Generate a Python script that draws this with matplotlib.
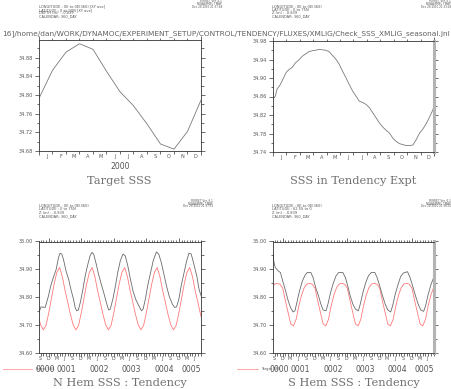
import numpy as np
import matplotlib.pyplot as plt
from matplotlib.ticker import FixedLocator, NullFormatter

# ---------------------------------------------------------------
# data
# ---------------------------------------------------------------
# top left: Target SSS, monthly (month boundaries 0..12)
target_month = [0, 1, 2, 3, 4, 5, 6, 7, 8, 9, 10, 11, 12]
target_sss = [34.793, 34.853, 34.892, 34.910, 34.898, 34.851, 34.807,
              34.777, 34.738, 34.695, 34.684, 34.722, 34.789]

# top right: SSS in tendency expt (month of year)
tend_month = [0, 0.18, 0.3, 0.55, 0.8, 0.98, 1.18, 1.43, 1.68, 1.93, 2.18,
              2.43, 2.68, 2.93, 3.18, 3.43, 3.68, 3.93, 4.18, 4.43, 4.68,
              4.93, 5.18, 5.43, 5.68, 5.93, 6.18, 6.43, 6.68, 6.93, 7.18,
              7.43, 7.68, 7.93, 8.18, 8.43, 8.68, 8.93, 9.18, 9.43, 9.68,
              9.93, 10.18, 10.43, 10.68, 10.93, 11.18, 11.43, 11.68, 11.93, 12.0]
tend_sss = [34.854, 34.861, 34.876, 34.886, 34.901, 34.912, 34.918, 34.923,
            34.933, 34.939, 34.947, 34.952, 34.957, 34.959, 34.960, 34.962,
            34.961, 34.960, 34.957, 34.949, 34.941, 34.930, 34.915, 34.901,
            34.886, 34.872, 34.861, 34.850, 34.847, 34.843, 34.836, 34.825,
            34.814, 34.803, 34.794, 34.787, 34.781, 34.770, 34.763, 34.758,
            34.756, 34.754, 34.754, 34.755, 34.767, 34.781, 34.790, 34.802,
            34.816, 34.832, 34.843]
month_letters = ['J', 'F', 'M', 'A', 'M', 'J', 'J', 'A', 'S', 'O', 'N', 'D']

# bottom panels: time in years since 0000-01-01
n_time = [0.70, 0.76, 0.89, 0.99, 1.06, 1.14, 1.23, 1.30, 1.35, 1.40, 1.45,
          1.53, 1.61, 1.68, 1.76, 1.81, 1.86, 1.91, 1.97, 2.05, 2.12, 2.19,
          2.27, 2.33, 2.38, 2.46, 2.53, 2.60, 2.69, 2.77, 2.84, 2.89, 2.97,
          3.05, 3.12, 3.20, 3.28, 3.35, 3.43, 3.51, 3.59, 3.67, 3.77, 3.85,
          3.90, 3.97, 4.04, 4.13, 4.21, 4.31, 4.38, 4.46, 4.54, 4.62, 4.70,
          4.80, 4.87, 4.93, 5.00, 5.07, 5.16, 5.24, 5.31, 5.38, 5.46, 5.55,
          5.62, 5.70]
n_sss = [34.746, 34.766, 34.764, 34.805, 34.841, 34.871, 34.901, 34.943,
         34.958, 34.955, 34.937, 34.895, 34.865, 34.829, 34.794, 34.764,
         34.752, 34.755, 34.782, 34.829, 34.877, 34.913, 34.949, 34.961,
         34.955, 34.919, 34.883, 34.853, 34.817, 34.782, 34.755, 34.758,
         34.794, 34.841, 34.889, 34.931, 34.955, 34.949, 34.913, 34.865,
         34.823, 34.794, 34.770, 34.752, 34.758, 34.794, 34.841, 34.889,
         34.931, 34.963, 34.955, 34.925, 34.883, 34.841, 34.805, 34.776,
         34.764, 34.766, 34.794, 34.841, 34.889, 34.931, 34.958, 34.955,
         34.919, 34.877, 34.829, 34.800]
n_target_clim = [34.745, 34.797, 34.849, 34.890, 34.907, 34.875, 34.825,
                 34.783, 34.739, 34.702, 34.684, 34.700]

s_time = [0.70, 0.73, 0.77, 0.86, 0.93, 1.00, 1.09, 1.17, 1.24, 1.32, 1.38,
          1.45, 1.52, 1.61, 1.69, 1.76, 1.87, 1.94, 2.02, 2.11, 2.18, 2.25,
          2.34, 2.40, 2.48, 2.57, 2.65, 2.73, 2.86, 2.94, 3.01, 3.09, 3.17,
          3.25, 3.34, 3.40, 3.48, 3.57, 3.65, 3.74, 3.85, 3.92, 4.00, 4.09,
          4.17, 4.25, 4.34, 4.40, 4.48, 4.57, 4.65, 4.73, 4.86, 4.94, 5.02,
          5.11, 5.19, 5.27, 5.36, 5.42, 5.50, 5.59, 5.67, 5.70]
s_sss = [34.955, 34.925, 34.907, 34.895, 34.889, 34.859, 34.823, 34.788,
         34.764, 34.748, 34.752, 34.788, 34.823, 34.859, 34.879, 34.889,
         34.889, 34.871, 34.835, 34.805, 34.776, 34.755, 34.752, 34.776,
         34.817, 34.853, 34.877, 34.889, 34.889, 34.871, 34.841, 34.805,
         34.776, 34.758, 34.752, 34.776, 34.817, 34.853, 34.877, 34.889,
         34.889, 34.871, 34.841, 34.805, 34.776, 34.755, 34.748, 34.770,
         34.811, 34.847, 34.875, 34.887, 34.892, 34.871, 34.841, 34.805,
         34.776, 34.755, 34.750, 34.770, 34.811, 34.847, 34.871, 34.877]
s_target_clim = [34.833, 34.788, 34.746, 34.705, 34.698, 34.722, 34.770,
                 34.808, 34.835, 34.848, 34.850, 34.847]

years = [0, 1, 2, 3, 4, 5]
year_labels = ['0000', '0001', '0002', '0003', '0004', '0005']
short_months = {8: 'S', 11: 'D', 2: 'M', 5: 'J'}

path_text = ("16]/home/dan/WORK/DYNAMOC/EXPERIMENT_SETUP/CONTROL/TENDENCY/"
             "FLUXES/XMLIG/Check_SSS_XMLIG_seasonal.jnl")

# ---------------------------------------------------------------
W, H = 452, 389
fig = plt.figure(figsize=(W / 100, H / 100), dpi=100)
TXT = '#555555'
AX = '#333333'


def box(l, t, r, b):
    return [l / W, 1 - b / H, (r - l) / W, (b - t) / H]


def fig_text(x, y, s, **kw):
    return fig.text(x / W, 1 - y / H, s, **kw)


def style(ax, band=False):
    for sp in ax.spines.values():
        sp.set_color(AX)
        sp.set_linewidth(0.6)
    if band:
        ax.spines['right'].set_color('#b4b4b4')
        ax.spines['right'].set_linewidth(2.2)
    ax.tick_params(which='both', direction='out', colors=AX, width=0.5,
                   labelcolor=TXT, labelsize=3.6, top=True, right=True)
    ax.tick_params(which='major', length=3, pad=1.5)
    ax.tick_params(which='minor', length=1.8)


def header(l, r, top, left_lines, right_lines):
    for i, s in enumerate(left_lines):
        fig_text(l, top + 5 + 3.4 * i, s, fontsize=2.6, color=TXT, va='center')
    for i, s in enumerate(right_lines):
        fig_text(r, top + 2.7 * i, s, fontsize=2.0, color=TXT, va='center',
                 ha='right')


def month_axis(ax):
    ax.set_xlim(0, 12)
    ax.xaxis.set_major_locator(FixedLocator([0, 12]))
    ax.xaxis.set_minor_locator(FixedLocator(range(1, 12)))
    ax.xaxis.set_major_formatter(NullFormatter())
    for m, s in enumerate(month_letters):
        ax.text(m + 0.6, -0.025, s, transform=ax.get_xaxis_transform(),
                fontsize=3.6, color=TXT, ha='center', va='top')


def year_axis(ax, lo, hi):
    ax.set_xlim(lo, hi)
    ax.xaxis.set_major_locator(FixedLocator(years[1:]))
    mins = [y + m / 12 for y in years for m in range(12)]
    ax.xaxis.set_minor_locator(FixedLocator(mins))
    ax.xaxis.set_major_formatter(NullFormatter())
    tr = ax.get_xaxis_transform()
    for y in years:
        for m, s in short_months.items():
            t = y + (m + 0.7) / 12
            if lo < t < hi:
                ax.text(t, -0.025, s, transform=tr, fontsize=3.4, color=TXT,
                        ha='center', va='top')
        a, b = max(y, lo), min(y + 1, hi)
        if b > a:
            ax.text((a + b) / 2 + 0.05, -0.105, year_labels[y], transform=tr,
                    fontsize=5.6, color=TXT, ha='center', va='top')


def yaxis(ax, lo, hi, major, minor, fmt='%.2f'):
    ax.set_ylim(lo, hi)
    ax.set_yticks(major)
    ax.set_yticklabels([fmt % v for v in major])
    ax.yaxis.set_minor_locator(FixedLocator(minor))


title_kw = dict(fontsize=8.2, color='#707070', family='DejaVu Serif',
                ha='center', va='center')

# ---------------------------------------------------------------
# top left: Target SSS
ax1 = fig.add_axes(box(39, 40, 201, 151))
ax1.plot(target_month, target_sss, color='#7a7a7a', lw=0.6)
month_axis(ax1)
yaxis(ax1, 34.68, 34.918, [34.68, 34.72, 34.76, 34.80, 34.84, 34.88],
      [34.70, 34.74, 34.78, 34.82, 34.86, 34.90])
style(ax1)
fig_text(120, 166.5, '2000', fontsize=5.6, color=TXT, ha='center', va='center')
fig_text(119, 181.5, 'Target SSS', **title_kw)
header(39, 222, 1.5, ['LONGITUDE : 0E to 0E(360) [XY ave]',
                      'LATITUDE : 0 to 90N [XY ave]', 'DEPTH (m) : -0.839',
                      'CALENDAR: 360_DAY'],
       ['FERRET Ver. 6.1', 'NOAA/PMEL TMAP', 'Dec 28 2010 21:37:48'])

# top right: SSS in Tendency Expt
ax2 = fig.add_axes(box(273, 41, 434, 152))
ax2.plot(tend_month, tend_sss, color='#7a7a7a', lw=0.6)
month_axis(ax2)
yaxis(ax2, 34.74, 34.98, [34.74, 34.78, 34.82, 34.86, 34.90, 34.94, 34.98],
      [34.76, 34.80, 34.84, 34.88, 34.92, 34.96])
style(ax2, band=True)
fig_text(353.5, 181.5, 'SSS in Tendency Expt', **title_kw)
header(272.5, 451, 1.5, ['LONGITUDE : 0E to 0E(360)', 'LATITUDE : 0 to 75N',
                         'Z (m) : -0.839', 'CALENDAR: 360_DAY'],
       ['FERRET Ver. 6.1', 'NOAA/PMEL TMAP', 'Dec 28 2010 21:33:46'])

# path string across the top, sized to run from the left edge to x=450
ptxt = fig_text(450, 33.5, path_text, fontsize=8, color='#606060', ha='right',
                va='center', family=['Liberation Sans Narrow', 'DejaVu Sans'])
fig.canvas.draw()
pw = ptxt.get_window_extent(fig.canvas.get_renderer()).width
ptxt.set_fontsize(8 * 449 / pw)

# bottom panels
lo, hi = 0.70, 5.68
bottom_ticks = [34.60, 34.70, 34.80, 34.90, 35.00]
bottom_minor = [34.65, 34.75, 34.85, 34.95]

ax3 = fig.add_axes(box(39, 241.5, 201, 353.3))
t_red = [y + m / 12 for y in years for m in range(12)]
ax3.plot(t_red, np.tile(n_target_clim, len(years)), color='#ff7a7a', lw=0.6)
ax3.plot(n_time, n_sss, color='#6a6a6a', lw=0.6)
year_axis(ax3, lo, hi)
yaxis(ax3, 34.60, 35.00, bottom_ticks, bottom_minor)
style(ax3)
fig_text(120, 383.3, 'N Hem SSS : Tendency', **title_kw)
header(39, 213, 201, ['LONGITUDE : 0E to 0E(360)', 'LATITUDE : 0 to 75N',
                      'Z (m) : -0.839', 'CALENDAR: 360_DAY'],
       ['FERRET Ver. 6.1', 'NOAA/PMEL TMAP', 'Dec 28 2010 21:37:51'])

ax4 = fig.add_axes(box(273, 241.5, 434, 353.3))
ax4.plot(t_red, np.tile(s_target_clim, len(years)), color='#ff7a7a', lw=0.6)
ax4.plot(s_time, s_sss, color='#6a6a6a', lw=0.6)
year_axis(ax4, lo, hi)
yaxis(ax4, 34.60, 35.00, bottom_ticks, bottom_minor)
style(ax4, band=True)
fig_text(354, 383.3, 'S Hem SSS : Tendency', **title_kw)
header(272.5, 451, 201, ['LONGITUDE : 0E to 0E(360)', 'LATITUDE : 62.5S to 0',
                         'Z (m) : -0.839', 'CALENDAR: 360_DAY'],
       ['FERRET Ver. 6.1', 'NOAA/PMEL TMAP', 'Dec 28 2010 21:36:00'])

# little legends under the bottom panels
for x0, x1 in [(3, 32), (237, 258)]:
    fig.add_artist(plt.Line2D([x0 / W, x1 / W], [1 - 369 / H] * 2,
                              color='#ff9a9a', lw=0.6))
    fig_text(x1 + 3, 369, 'Target SSS', fontsize=2.6, color=TXT, va='center')

fig.savefig('out.png', dpi=100)
